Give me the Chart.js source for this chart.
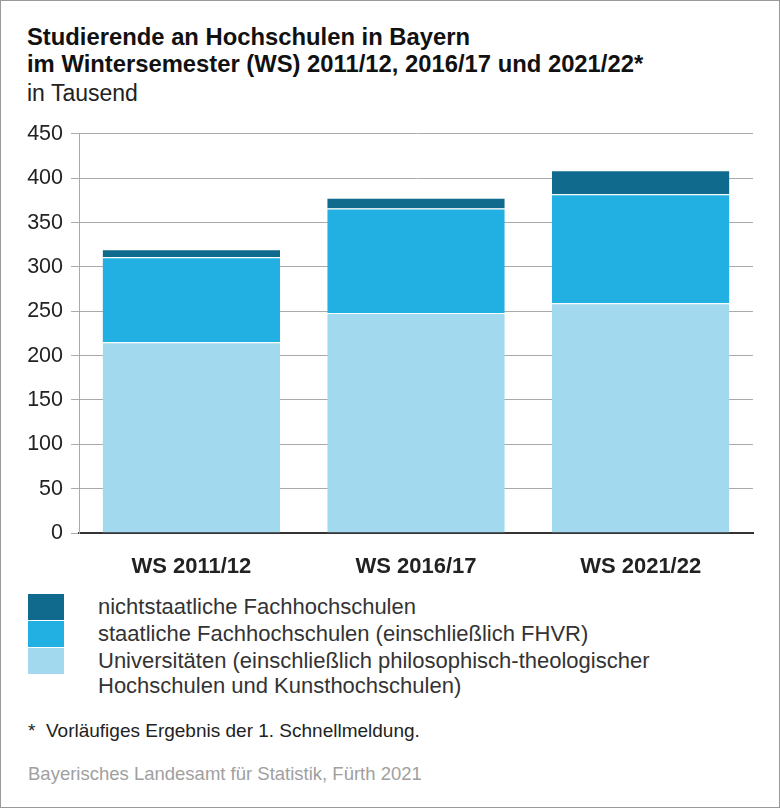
<!DOCTYPE html>
<html lang="de">
<head>
<meta charset="utf-8">
<title>Studierende an Hochschulen in Bayern</title>
<script src="https://cdn.jsdelivr.net/npm/chart.js@4/dist/chart.umd.min.js"></script>
<style>
  html, body { margin: 0; padding: 0; background: #fff; }
  #frame {
    position: relative; width: 780px; height: 808px; box-sizing: border-box;
    border: 1px solid #9a9a9a; font-family: "Liberation Sans", Arial, sans-serif; color: #222;
  }
  #title { position: absolute; left: 26px; top: 22px; font-size: 23.8px; font-weight: bold; line-height: 27px; color: #111; }
  #unit { position: absolute; left: 26px; top: 79px; font-size: 23px; line-height: 26px; }
  #chartBox { position: absolute; left: 0; top: 112px; width: 780px; height: 468px; }
  #legend { position: absolute; left: 27px; top: 593px; }
  .item { display: flex; align-items: flex-start; margin-bottom: 1px; }
  .box { width: 36px; height: 26px; flex: none; }
  .label { margin-left: 34px; font-size: 22px; line-height: 25px; margin-top: 0px; color: #333; }
  #note { position: absolute; left: 27px; top: 719px; font-size: 19px; color: #222; }
  #source { position: absolute; left: 27px; top: 762px; font-size: 18.5px; color: #a0a0a0; }
</style>
</head>
<body>
<div id="frame">
  <div id="title">Studierende an Hochschulen in Bayern<br>im Wintersemester (WS) 2011/12, 2016/17 und 2021/22*</div>
  <div id="unit">in Tausend</div>
  <div id="chartBox"><canvas id="myChart"></canvas></div>
  <div id="legend"></div>
  <div id="note">*&nbsp; Vorläufiges Ergebnis der 1. Schnellmeldung.</div>
  <div id="source">Bayerisches Landesamt für Statistik, Fürth 2021</div>
</div>
<script>
// Daten (in Tausend)
const semesters = ["WS 2011/12", "WS 2016/17", "WS 2021/22"];
const universitaeten = [215, 248, 259];
const staatlicheFH = [96, 118, 123];
const nichtstaatlicheFH = [9, 12, 27];
const yTicks = [0, 50, 100, 150, 200, 250, 300, 350, 400, 450];

const labelUni = "Universitäten (einschließlich philosophisch-theologischer\nHochschulen und Kunsthochschulen)";
const labelStaat = "staatliche Fachhochschulen (einschließlich FHVR)";
const labelNicht = "nichtstaatliche Fachhochschulen";

const sep = { top: 1, right: 0, bottom: 0, left: 0 }; // weiße Trennlinie

const chartData = {
  labels: semesters,
  datasets: [
    { label: labelUni, data: universitaeten, backgroundColor: '#a3d9ee', borderColor: '#ffffff', borderWidth: sep, borderSkipped: false },
    { label: labelStaat, data: staatlicheFH, backgroundColor: '#22afe1', borderColor: '#ffffff', borderWidth: sep, borderSkipped: false },
    { label: labelNicht, data: nichtstaatlicheFH, backgroundColor: '#106a8d', borderColor: '#ffffff', borderWidth: sep, borderSkipped: false }
  ]
};

const chart = new Chart(document.getElementById('myChart').getContext('2d'), {
  type: 'bar',
  data: chartData,
  options: {
    responsive: true,
    maintainAspectRatio: false,
    animation: false,
    layout: { padding: { top: 0, right: 28, bottom: 0, left: 0 } },
    datasets: { bar: { categoryPercentage: 1, barPercentage: 0.79 } },
    plugins: { legend: { display: false }, tooltip: { enabled: false } },
    scales: {
      x: {
        stacked: true,
        grid: { display: false },
        border: { display: true, color: '#333', width: 2 },
        ticks: { color: '#222', padding: 13, font: { family: 'Liberation Sans', size: 22, weight: 'bold' } },
        afterFit: s => { s.height = 48; }
      },
      y: {
        stacked: true,
        min: 0, max: 450,
        afterBuildTicks: s => { s.ticks = yTicks.map(v => ({ value: v })); },
        grid: { color: '#aaaaaa', lineWidth: 1, tickLength: 8, tickColor: '#aaaaaa' },
        border: { display: true, color: '#aaaaaa', width: 1 },
        ticks: { color: '#222', padding: 8, font: { family: 'Liberation Sans', size: 21.5 } },
        afterFit: s => { s.width = 78; }
      }
    }
  }
});

// Legende (oberste Schicht zuerst)
const legend = document.getElementById('legend');
chart.data.datasets.slice().reverse().forEach(ds => {
  const item = document.createElement('div');
  item.className = 'item';
  const box = document.createElement('div');
  box.className = 'box';
  box.style.background = ds.backgroundColor;
  const txt = document.createElement('div');
  txt.className = 'label';
  txt.innerHTML = ds.label.replace('\n', '<br>');
  item.appendChild(box);
  item.appendChild(txt);
  legend.appendChild(item);
});
</script>
</body>
</html>
